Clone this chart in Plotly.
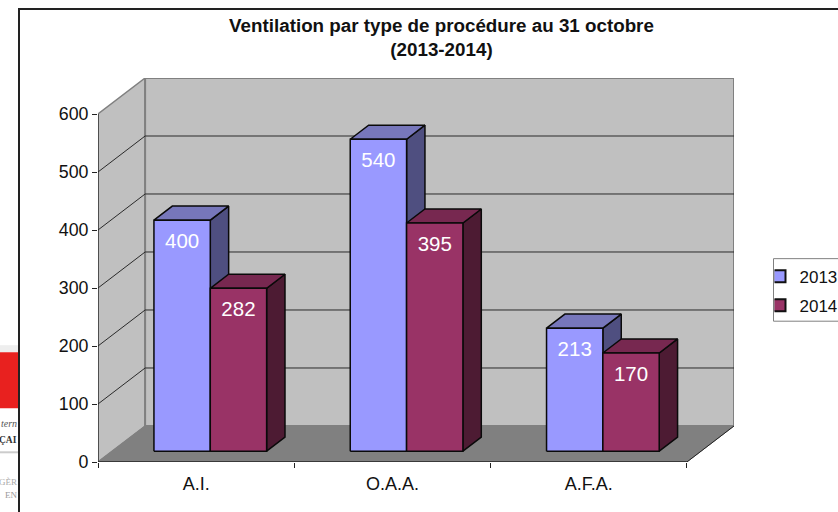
import plotly.graph_objects as go

# ---- data ----
categories = ["A.I.", "O.A.A.", "A.F.A."]
series_names = ["2013", "2014"]
values_2013 = [400, 540, 213]
values_2014 = [282, 395, 170]
y_ticks = [0, 100, 200, 300, 400, 500, 600]
title_text = "Ventilation par type de procédure au 31 octobre<br>(2013-2014)"

# ---- style / geometry ----
W, H = 838, 512
L, R, T, B = 98, 104, 78, 50.3
DX, DY = 0.24, 62.1          # wall depth, in axis units
F0, F1 = 0.30, 0.69          # bar front / back depth, fraction of the wall depth
BW = 0.287                   # width of one bar, in category units
HS = 0.996                   # perspective shrink of the bars
YMAX = 600
EDGE = "#0a0a0a"
C = {
    "2013": dict(front="#9999ff", top="#7777bb", side="#4f4f80", text="#ffffff"),
    "2014": dict(front="#993366", top="#772850", side="#4d1b33", text="#ffffff"),
}
FONT = "Liberation Sans, Arial, sans-serif"


def px(x):
    return (x - L) / (W - L - R)


def py(y):
    return 1 - (y - T) / (H - T - B)


fig = go.Figure()


def poly(xs, ys, fill, line, width=1.0):
    fig.add_trace(go.Scatter(
        x=xs + xs[:1], y=ys + ys[:1], mode="lines", fill="toself", fillcolor=fill,
        line=dict(color=line, width=width), hoverinfo="skip", showlegend=False))


def seg(xs, ys, color, width=1.0):
    fig.add_trace(go.Scatter(x=xs, y=ys, mode="lines", line=dict(color=color, width=width),
                             hoverinfo="skip", showlegend=False, cliponaxis=False))


n = len(categories)
# walls and floor
poly([0, DX, DX, 0], [0, DY, YMAX + DY, YMAX], "#c0c0c0", "#808080", 1.5)
poly([DX, n + DX, n + DX, DX], [DY, DY, YMAX + DY, YMAX + DY], "#c0c0c0", "#808080", 2)
poly([0, n, n + DX, DX], [0, 0, DY, DY], "#808080", "#808080", 1)
# gridlines
for t in y_ticks[1:-1]:
    seg([0, DX, n + DX], [t, t + DY, t + DY], "#2a2a2a", 1.0)
# bars, drawn back to front


def bar(cat_i, ser_i, v, col):
    x0 = cat_i + 0.5 + (ser_i - 1) * BW + F0 * DX
    x1 = x0 + BW
    d = (F1 - F0)
    base = F0 * DY
    top = base + v * HS
    ddx, ddy = d * DX, d * DY
    poly([x1, x1 + ddx, x1 + ddx, x1], [base, base + ddy, top + ddy, top], col["side"], EDGE, 1.5)
    poly([x0, x1, x1 + ddx, x0 + ddx], [top, top, top + ddy, top + ddy], col["top"], EDGE, 1.5)
    poly([x0, x1, x1, x0], [base, base, top, top], col["front"], EDGE, 1.5)
    fig.add_trace(go.Scatter(
        x=[(x0 + x1) / 2], y=[top - 39], mode="text", text=[str(v)],
        textfont=dict(family=FONT, size=20.5, color=col["text"]),
        textposition="middle center", hoverinfo="skip", showlegend=False))


for i in range(n):
    bar(i, 0, values_2013[i], C["2013"])
    bar(i, 1, values_2014[i], C["2014"])

# front axis lines
seg([0, 0], [0, YMAX], "#222222", 1.2)
seg([0, n], [0, 0], "#222222", 1.6)
seg([n, n + DX], [0, DY], "#222222", 1.0)

# legend entries
for name in series_names:
    fig.add_trace(go.Scatter(
        x=[None], y=[None], mode="markers", name=name, legendgroup=name,
        marker=dict(symbol="square", size=10, color=C[name]["front"], line=dict(color="#111111", width=1.5))))

shapes = [
    # scrap of the page behind the chart
    dict(type="rect", xref="paper", yref="paper", x0=px(0), x1=px(19), y0=py(345), y1=py(352),
         fillcolor="#eeeeee", line_width=0, layer="below"),
    dict(type="rect", xref="paper", yref="paper", x0=px(0), x1=px(19), y0=py(352), y1=py(408),
         fillcolor="#e8211f", line_width=0, layer="below"),
    dict(type="rect", xref="paper", yref="paper", x0=px(0), x1=px(19), y0=py(451), y1=py(453),
         fillcolor="#cccccc", line_width=0, layer="below"),
    # chart frame
    dict(type="rect", xref="paper", yref="paper", x0=px(19), x1=px(W + 10), y0=py(9), y1=py(H + 10),
         fillcolor="#ffffff", line=dict(color="#222222", width=2), layer="below"),
    # legend box
    dict(type="rect", xref="paper", yref="paper", x0=px(773.5), x1=px(W + 10), y0=py(258.5), y1=py(321),
         fillcolor="#ffffff", line=dict(color="#808080", width=1), layer="below"),
]

annotations = [
    dict(text=txt, xref="paper", yref="paper", x=px(19), y=py(yy), xanchor="right", yanchor="middle",
         showarrow=False, font=dict(family="Liberation Serif, serif", size=sz, color=colr))
    for txt, yy, sz, colr in [
        ("<i>tern</i>", 423, 10, "#555555"),
        ("<b>ÇAI</b>", 440, 9.5, "#333333"),
        ("GÈR", 482, 9, "#aaaaaa"),
        ("EN", 495, 9, "#999999"),
    ]
]

fig.update_layout(
    width=W, height=H,
    margin=dict(l=L, r=R, t=T, b=B, pad=0, autoexpand=False),
    paper_bgcolor="#ffffff", plot_bgcolor="rgba(0,0,0,0)",
    font=dict(family=FONT, color="#111111", size=17),
    title=dict(text="<b>" + title_text + "</b>", x=441.5 / W, xanchor="center", xref="container",
               y=1 - 32 / H, yanchor="middle", yref="container",
               font=dict(family=FONT, size=18.8, color="#111111")),
    xaxis=dict(range=[0, n + DX], tickmode="array", tickvals=[i + 0.5 for i in range(n)], ticktext=categories,
               ticks="", showgrid=False, zeroline=False, showline=False, ticklabelstandoff=9,
               tickfont=dict(family=FONT, size=18, color="#111111"),
               minor=dict(tickmode="array", tickvals=list(range(n + 1)), ticks="outside", ticklen=5,
                          tickcolor="#222222", tickwidth=1, showgrid=False)),
    yaxis=dict(range=[0, YMAX + DY], tickmode="array", tickvals=y_ticks, ticks="outside", ticklen=5,
               tickcolor="#222222", tickwidth=1, showgrid=False, zeroline=False, showline=False,
               tickfont=dict(family=FONT, size=17.8, color="#111111")),
    legend=dict(x=px(774.5), xanchor="left", y=py(258.5), yanchor="top", bgcolor="rgba(0,0,0,0)",
                borderwidth=0, font=dict(family=FONT, size=17, color="#111111"),
                tracegroupgap=4, indentation=-15, itemsizing="constant"),
    shapes=shapes, annotations=annotations,
)

fig.write_html("out.html", config=dict(displayModeBar=False),
               post_script="document.body.style.margin='0';")
